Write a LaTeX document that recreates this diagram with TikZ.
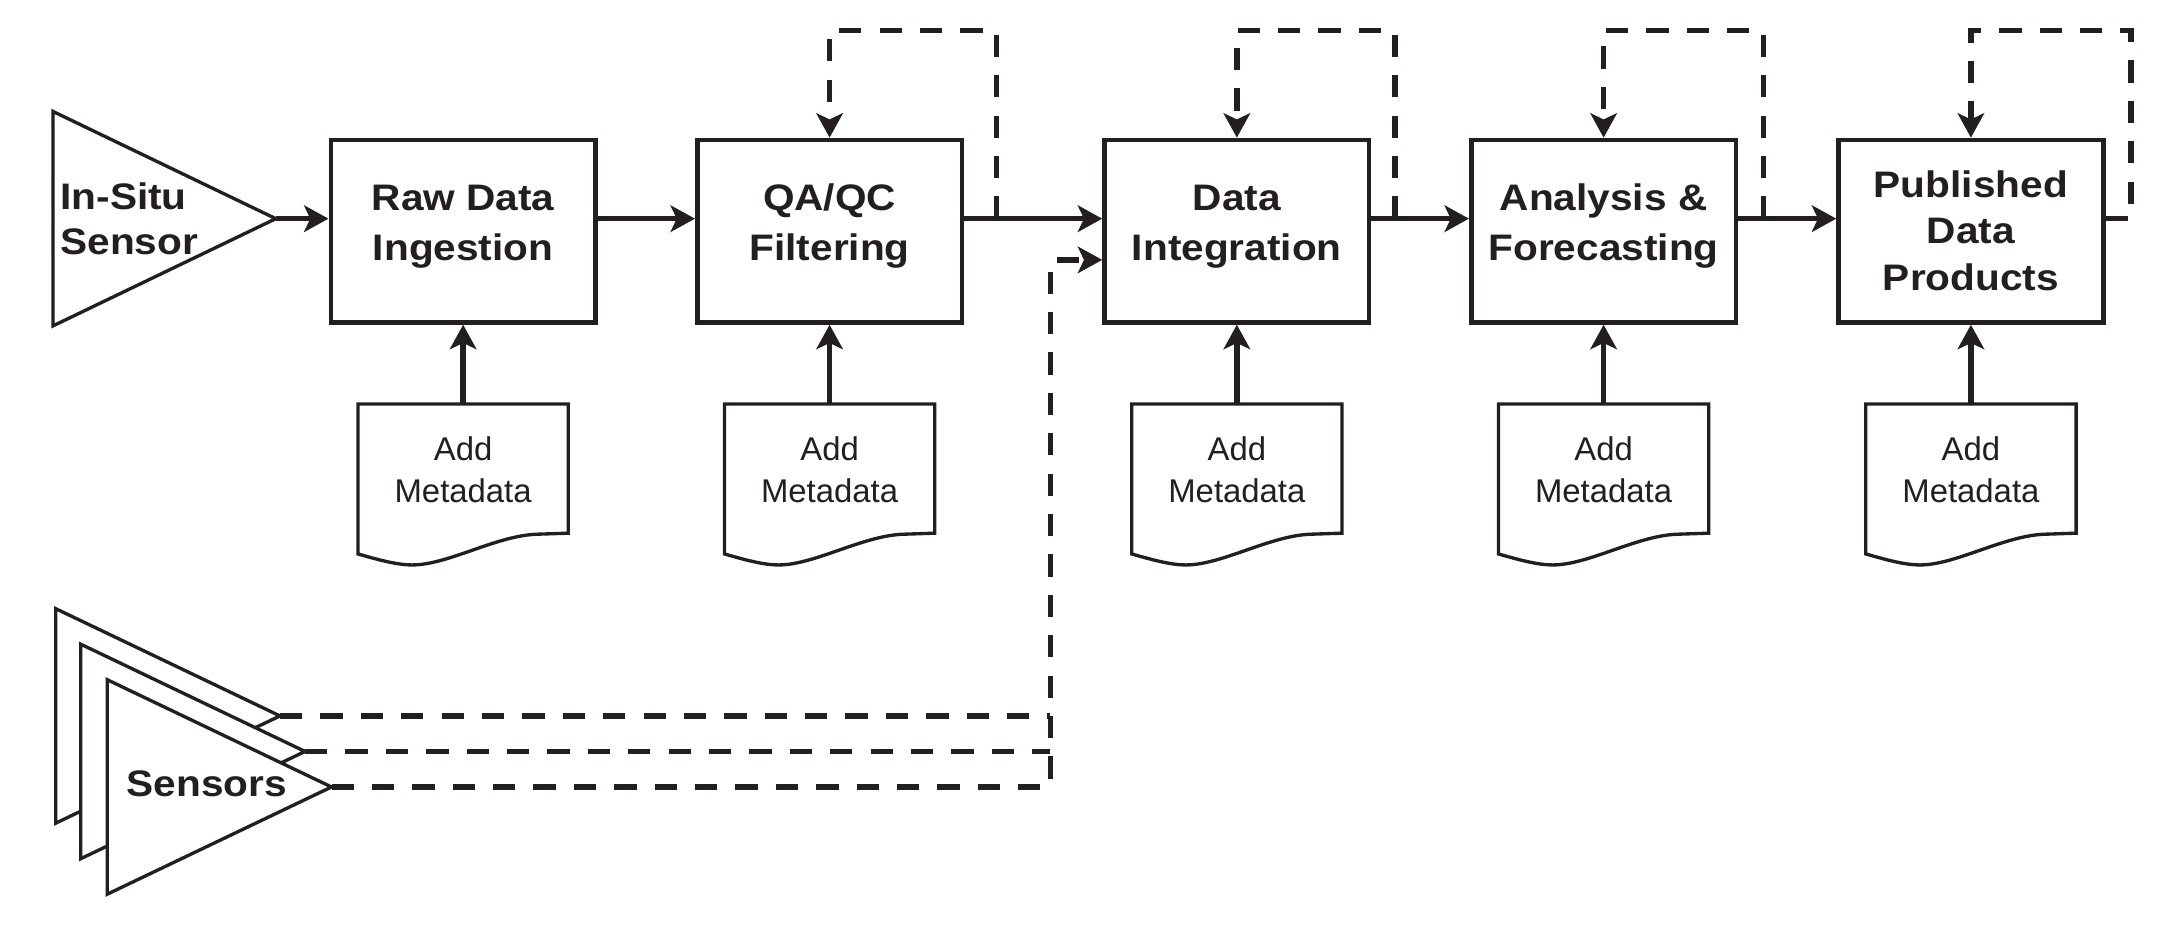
\documentclass[tikz,border=0pt]{standalone}
\usepackage{fontspec}
\setmainfont{Liberation Sans}
\newfontfamily\widebold{Liberation Sans}[FakeStretch=1.1]
\usetikzlibrary{arrows.meta,calc}
\definecolor{ink}{HTML}{231F20}
\begin{document}
\begin{tikzpicture}[x=0.5pt,y=-0.5pt,
  stagebox/.style={draw=ink, line width=1.65pt, minimum width=95pt, minimum height=65.5pt, inner sep=0pt},
  boldtxt/.style={inner sep=0pt, align=center, font=\widebold\bfseries\fontsize{13.25pt}{18pt}\selectfont, text=ink},
  metatxt/.style={inner sep=0pt, align=center, font=\fontsize{11.8pt}{15pt}\selectfont, text=ink},
  sensorshape/.style={draw=ink, fill=white, line width=1.2pt, line join=miter},
  docshape/.style={draw=ink, fill=white, line width=1.2pt},
  tipstyle/.style={-{Stealth[length=8.75pt,width=9.5pt,inset=2.2pt]}},
  flow/.style={draw=ink, line width=1.9pt, tipstyle},
  dashline/.style={draw=ink, line width=1.9pt, dash pattern=on 8pt off 6.5pt},
  dashflow/.style={dashline, tipstyle},
]
\useasboundingbox (0,0) rectangle (1568,668);

% stage boxes
\node[stagebox] (raw) at (332.5,166) {};
\node[stagebox] (qa)  at (595.6,166) {};
\node[stagebox] (di)  at (888,166)   {};
\node[stagebox] (an)  at (1151.3,166) {};
\node[stagebox] (pub) at (1415,166)  {};
\node[boldtxt] (rawtxt) at (332.5,162.5) {Raw Data\\Ingestion};
\node[boldtxt] (qatxt)  at (595.6,162.5) {QA/QC\\Filtering};
\node[boldtxt] (ditxt)  at (888,162.5)   {Data\\Integration};
\node[boldtxt] (antxt)  at (1151.3,162.5) {Analysis \&\\Forecasting};
\node[boldtxt] (pubtxt) at (1415,165.5)  {Published\\[-1.25pt]Data\\[-1.25pt]Products};

% in-situ sensor
\draw[sensorshape] (38,80) -- (198,157) -- (38,234) -- cycle;
\coordinate (insitu) at (198,157);
\node[boldtxt, align=left, anchor=west, font=\widebold\bfseries\fontsize{13.25pt}{16pt}\selectfont] (insitutxt) at (43,157) {In-Situ\\Sensor};

% sensors stack
\draw[sensorshape] (40,437) -- (201,514) -- (40,591) -- cycle;
\draw[sensorshape] (58,462.5) -- (219,539.5) -- (58,616.5) -- cycle;
\draw[sensorshape] (77,488) -- (238,565) -- (77,642) -- cycle;
\coordinate (s1) at (201,514);
\coordinate (s2) at (219,539.5);
\coordinate (s3) at (238,565);
\node[boldtxt, anchor=west] (sensorstxt) at (90.5,563) {Sensors};

% metadata documents
\foreach \cx/\n/\b in {332.5/1/raw, 595.6/2/qa, 888/3/di, 1151.3/4/an, 1415/5/pub}{
  \draw[docshape] (\cx-75.5,290) -- (\cx+75.5,290) -- (\cx+75.5,382.8) -- (\cx+54.2,383.5)
    .. controls (\cx+24.5,384) and (\cx-10.5,405.6) .. (\cx-36.5,405.6)
    .. controls (\cx-47.5,405.6) and (\cx-60.5,402) .. (\cx-75.5,397.7) -- cycle;
  \node[metatxt] (meta\n) at (\cx,337.5) {Add\\Metadata};
  \coordinate (doctop\n) at (\cx,290);
  \draw[flow] (doctop\n) -- (\b.south);
}

% main flow
\coordinate (ml) at (0,157);
\draw[flow] (insitu) -- (raw.west |- ml);
\draw[flow] (raw.east |- ml) -- (qa.west |- ml);
\draw[flow] (qa.east |- ml) -- (di.west |- ml);
\draw[flow] (di.east |- ml) -- (an.west |- ml);
\draw[flow] (an.east |- ml) -- (pub.west |- ml);

% feedback loops
\coordinate (looptop) at (0,22);
\coordinate (qaloop) at (715.5,157);
\coordinate (diloop) at (1001.6,157);
\coordinate (anloop) at (1266,157);
\coordinate (publoop) at (1530,157);
\draw[dashflow] (qaloop) -- (qaloop |- looptop) -| (qa.north);
\draw[dashflow] (diloop) -- (diloop |- looptop) -| (di.north);
\draw[dashflow] (anloop) -- (anloop |- looptop) -| (an.north);
\draw[dashflow] (pub.east |- ml) -- (publoop) -- (publoop |- looptop) -| (pub.north);

% sensors to data integration
\coordinate (jx) at (754,0);
\coordinate (dip) at (0,186.6);
\draw[dashline] (s1) -- (s1 -| jx);
\draw[dashline] (s2) -- (s2 -| jx);
\draw[dashflow] (s3) -- (s3 -| jx) -- (jx |- dip) -- (di.west |- dip);
\end{tikzpicture}
\end{document}
